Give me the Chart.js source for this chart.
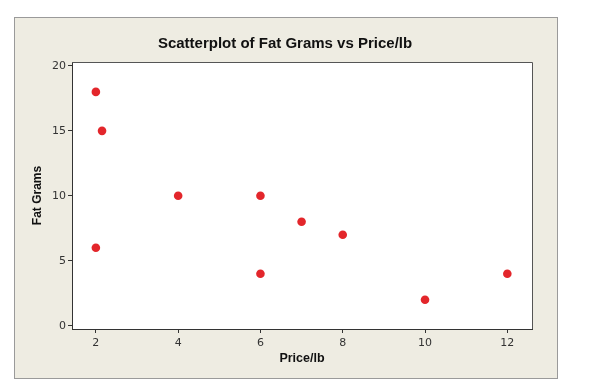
<!DOCTYPE html>
<html>
<head>
<meta charset="utf-8">
<script src="https://cdn.jsdelivr.net/npm/chart.js@4/dist/chart.umd.min.js"></script>
<style>
  html, body { margin: 0; padding: 0; background: #ffffff; }
  #c { display: block; }
</style>
</head>
<body>
<canvas id="c" width="600" height="391"></canvas>
<script>
const chartTitle = "Scatterplot of Fat Grams vs Price/lb";
const xTitle = "Price/lb";
const yTitle = "Fat Grams";
const priceX = [2, 2.15, 2, 4, 6, 6, 7, 8, 10, 12];
const fatY = [18, 15, 6, 10, 10, 4, 8, 7, 2, 4];
const xTicks = [2, 4, 6, 8, 10, 12];
const yTicks = [0, 5, 10, 15, 20];

const points = priceX.map((x, i) => ({ x: x, y: fatY[i] }));

const framePlugin = {
  id: 'frame',
  beforeDraw(chart) {
    const ctx = chart.ctx;
    const a = chart.chartArea;
    ctx.save();
    ctx.fillStyle = '#ffffff';
    ctx.fillRect(0, 0, chart.width, chart.height);
    ctx.fillStyle = '#EEECE2';
    ctx.fillRect(14, 17, 544, 362);
    ctx.strokeStyle = '#9a9a9a';
    ctx.lineWidth = 1;
    ctx.strokeRect(14.5, 17.5, 543, 361);
    ctx.fillStyle = '#ffffff';
    ctx.fillRect(a.left, a.top, a.right - a.left, a.bottom - a.top);
    ctx.restore();
  },
  afterDraw(chart) {
    const ctx = chart.ctx;
    const a = chart.chartArea;
    ctx.save();
    ctx.strokeStyle = '#555555';
    ctx.lineWidth = 1;
    ctx.beginPath();
    ctx.moveTo(a.left, a.top + 0.5);
    ctx.lineTo(a.right + 0.5, a.top + 0.5);
    ctx.lineTo(a.right + 0.5, a.bottom);
    ctx.stroke();
    ctx.fillStyle = '#111111';
    ctx.font = 'bold 15px "Liberation Sans", Arial, sans-serif';
    ctx.textAlign = 'center';
    ctx.textBaseline = 'middle';
    ctx.fillText(chartTitle, 285, 44);
    ctx.restore();
  }
};

new Chart(document.getElementById('c'), {
  type: 'scatter',
  data: {
    datasets: [{
      data: points,
      backgroundColor: '#E3262B',
      borderColor: '#E3262B',
      pointRadius: 4.3,
      pointHoverRadius: 4.3,
      borderWidth: 0
    }]
  },
  options: {
    responsive: false,
    animation: false,
    events: [],
    layout: { padding: { left: 14, top: 62, right: 68, bottom: 12 } },
    plugins: { legend: { display: false }, tooltip: { enabled: false }, title: { display: false } },
    scales: {
      x: {
        type: 'linear',
        min: 1.42,
        max: 12.6,
        afterBuildTicks: (s) => { s.ticks = xTicks.map(v => ({ value: v })); },
        afterFit: (s) => { s.height = 50; },
        grid: { display: true, drawOnChartArea: false, tickLength: 4, tickColor: '#333333', tickWidth: 1 },
        border: { display: true, color: '#333333', width: 1 },
        ticks: { color: '#333333', font: { family: '"DejaVu Sans", sans-serif', size: 11 }, padding: 4, maxRotation: 0 },
        title: { display: true, text: xTitle, color: '#111111', font: { family: '"Liberation Sans", Arial, sans-serif', size: 12.5, weight: 'bold' }, padding: { top: 0, bottom: 13 } }
      },
      y: {
        type: 'linear',
        min: -0.25,
        max: 20.3,
        afterBuildTicks: (s) => { s.ticks = yTicks.map(v => ({ value: v })); },
        afterFit: (s) => { s.width = 58; },
        grid: { display: true, drawOnChartArea: false, tickLength: 4, tickColor: '#333333', tickWidth: 1 },
        border: { display: true, color: '#333333', width: 1 },
        ticks: { color: '#333333', font: { family: '"DejaVu Sans", sans-serif', size: 11 }, padding: 2 },
        title: { display: true, text: yTitle, color: '#111111', font: { family: '"Liberation Sans", Arial, sans-serif', size: 12, weight: 'bold' }, padding: { top: 16, bottom: 0 } }
      }
    }
  },
  plugins: [framePlugin]
});
</script>
</body>
</html>
